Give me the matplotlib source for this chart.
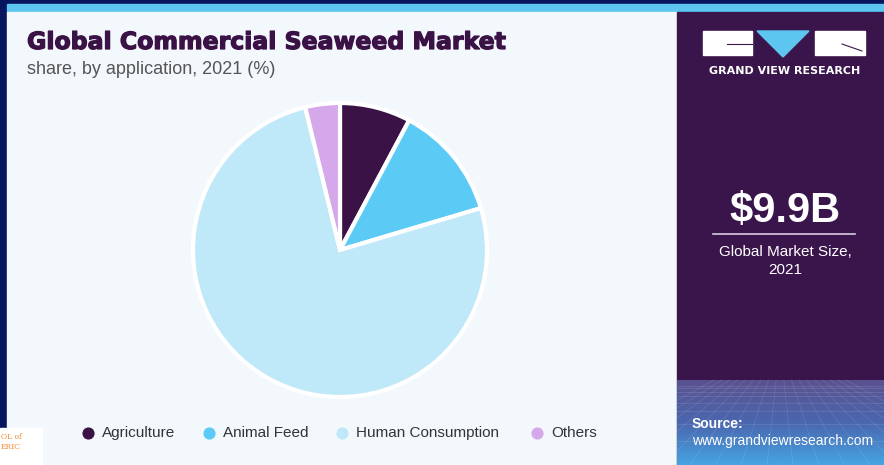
import numpy as np
import matplotlib
matplotlib.use("Agg")
import matplotlib.pyplot as plt
import matplotlib.patheffects as pe
from matplotlib.patches import Rectangle, Polygon

# ----------------------
# Data
# ----------------------
categories = ["Agriculture", "Animal Feed", "Human Consumption", "Others"]
shares = [7.8, 12.6, 75.8, 3.8]
colors = ["#3a1246", "#5bcbf5", "#bfe9f9", "#d4a8ea"]

title = "Global Commercial Seaweed Market"
subtitle = "share, by application, 2021 (%)"
market_size = "$9.9B"
market_label = "Global Market Size,\n2021"

W, H = 884, 465
plt.rcParams['font.family'] = ['Liberation Sans', 'DejaVu Sans']

fig = plt.figure(figsize=(W / 100, H / 100), dpi=100)
fig.patch.set_facecolor("#07155e")

# background panels (pixel coords, y down)
bg = fig.add_axes([0, 0, 1, 1])
bg.axis("off")
bg.add_patch(Rectangle((7, 4), W - 7, 8, color="#5cc6f0"))
bg.add_patch(Rectangle((7, 12), 670, H - 12, color="#f3f8fc"))
bg.add_patch(Rectangle((677, 12), W - 677, H - 12, color="#3a154b"))

# gradient at bottom of right panel
grad = np.linspace(0, 1, 100)
stops = [matplotlib.colors.to_rgb(c) for c in ["#5a5290", "#4b66ae", "#46a4e2"]]
img = np.array([np.interp(grad, [0, 0.5, 1], [s[i] for s in stops]) for i in range(3)]).T
img = np.repeat(img[:, None, :], 2, axis=1)
bg.imshow(img, extent=(677, W, H, 380), aspect="auto", zorder=1)
for yy in np.geomspace(6, 85, 9):
    bg.plot([677, W], [380 + yy, 380 + yy], color="white", alpha=0.12, lw=0.6, zorder=2)
for xx in np.linspace(560, 1000, 18):
    bg.plot([780 + (xx - 780) * 0.3, xx], [380, H], color="white", alpha=0.10, lw=0.6, zorder=2)
bg.set_xlim(0, W)
bg.set_ylim(H, 0)

# corner artifact
bg.add_patch(Rectangle((0, 428), 42, H - 428, color="white", zorder=3))
bg.text(1, 437, "OL of", fontsize=5.5, color="#f08a30", family="DejaVu Serif", va="center", zorder=4)
bg.text(1, 447, "ERIC", fontsize=5.5, color="#f08a30", family="DejaVu Serif", va="center", zorder=4)

# logo
bg.add_patch(Rectangle((703, 31), 49, 24, color="white", zorder=3))
bg.add_patch(Polygon([(757, 31), (809, 31), (783, 57)], color="#5cc6f0", zorder=3))
bg.add_patch(Rectangle((815, 31), 50, 24, color="white", zorder=3))
bg.plot([727, 752], [44, 44], color="#3a154b", lw=0.8, zorder=4)
bg.plot([842, 862], [44, 51], color="#3a154b", lw=0.8, zorder=4)
bg.text(785, 71, "GRAND VIEW RESEARCH", color="white", fontsize=8, fontweight="bold",
        family="DejaVu Sans", ha="center", va="center", zorder=4)

# market size block
bg.text(785, 211, market_size, color="white", fontsize=30, fontweight="bold",
        ha="center", va="center", zorder=4)
bg.plot([713, 855], [234, 234], color="#d8cce0", lw=1.2, zorder=4)
bg.text(785, 261, market_label, color="white", fontsize=11, ha="center", va="center",
        linespacing=1.3, zorder=4)

# source
bg.text(692, 424, "Source:", color="white", fontsize=10, fontweight="bold", va="center", zorder=4)
bg.text(692, 441, "www.grandviewresearch.com", color="white", fontsize=10, va="center", zorder=4)

# titles
bg.text(27, 42, title, color="#3a1246", fontsize=17, fontweight="bold",
        family="DejaVu Sans", va="center",
        path_effects=[pe.withStroke(linewidth=0.9, foreground="#3a1246")])
bg.text(27, 70, subtitle, color="#555555", fontsize=13, va="center")

# ----------------------
# Pie
# ----------------------
cx, cy, r = 340, 250, 147
ax = fig.add_axes([(cx - r) / W, (H - cy - r) / H, 2 * r / W, 2 * r / H])
ax.pie(shares, colors=colors, startangle=90, counterclock=False,
       wedgeprops=dict(edgecolor="white", linewidth=3))
ax.set_xlim(-1, 1)
ax.set_ylim(-1, 1)
ax.set_aspect("equal")
ax.axis("off")

# ----------------------
# Legend
# ----------------------
legend_x = [88, 209, 342, 537]
for lx, name, col in zip(legend_x, categories, colors):
    bg.scatter([lx], [433], s=60, color=col, zorder=4)
    bg.text(lx + 14, 433, name, color="#333333", fontsize=11, va="center", zorder=4)

fig.savefig("out.png", dpi=100, facecolor=fig.get_facecolor())
